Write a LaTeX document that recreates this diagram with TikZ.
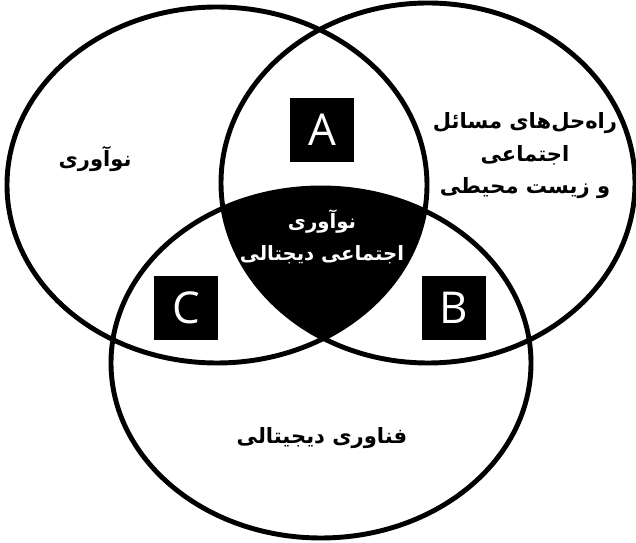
\documentclass[tikz,border=0pt]{standalone}
\usepackage{fontspec}
\usepackage{tikz}
\usetikzlibrary{positioning}
\TeXXeTstate=1
\newfontfamily\farsifont[Script=Arabic]{DejaVu Sans}
\newfontfamily\letterfont{Open Sans}
\newcommand{\pers}[1]{\beginR #1\endR}

\begin{document}
\begin{tikzpicture}[
        x=0.02cm, y=-0.02cm,
        setline/.style={draw=black, line width=2.8pt},
        letterbox/.style={
            rectangle, fill=black, text=white, inner sep=0pt,
            minimum width=1.3cm, minimum height=1.3cm,
            font=\letterfont\fontsize{25}{28}\selectfont
        },
        setlabel/.style={
            align=center, font=\farsifont\bfseries\fontsize{12}{18.5}\selectfont
        },
        corelabel/.style={
            setlabel, text=white, font=\farsifont\bfseries\fontsize{11.2}{18}\selectfont
        }
    ]

    \useasboundingbox (0,0) rectangle (636,543);

    % CENTRES OF THE THREE SETS
    \coordinate (cL) at (217,185);
    \coordinate (cR) at (428,183);
    \coordinate (cB) at (321,363);

    % SHARED PART OF ALL THREE
    \begin{scope}
        \clip (cL) ellipse [x radius=210, y radius=178];
        \clip (cR) ellipse [x radius=207, y radius=180];
        \fill[black] (cB) ellipse [x radius=210, y radius=175];
    \end{scope}

    % OUTLINES
    \draw[setline] (cL) ellipse [x radius=210, y radius=178];
    \draw[setline] (cR) ellipse [x radius=207, y radius=180];
    \draw[setline] (cB) ellipse [x radius=210, y radius=175];

    % SET LABELS
    \node[setlabel] (innov) at (95,159) {\pers{نوآوری}};
    \node[setlabel] (solut) at (525,156) {\pers{راه‌حل‌های مسائل}\\\pers{اجتماعی}\\\pers{و زیست محیطی}};
    \node[setlabel] (tech) at (322,438) {\pers{فناوری دیجیتالی}};
    \node[corelabel] (core) at (322,237) {\pers{نوآوری}\\\pers{اجتماعی دیجتالی}};

    % LETTER BOXES
    \node[letterbox] (boxA) at (322,130) {A};
    \node[letterbox] (boxB) at (454,308) {B};
    \node[letterbox] (boxC) at (186,308) {C};

\end{tikzpicture}
\end{document}
